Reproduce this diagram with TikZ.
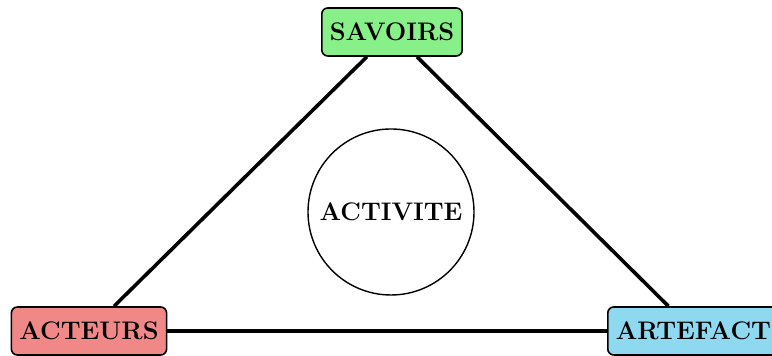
\documentclass[tikz,border=0pt]{standalone}
\usepackage{tikz}
\usetikzlibrary{positioning}
\definecolor{savoirgreen}{HTML}{88F088}
\definecolor{acteurred}{HTML}{F08888}
\definecolor{artefactblue}{HTML}{8ED8F0}

\begin{document}
\begin{tikzpicture}[
  x=1pt, y=1pt,
  every node/.style={font=\fontsize{12.7}{15}\selectfont\bfseries, align=center},
  pole/.style={draw=black, rounded corners=3pt, line width=0.8pt,
               minimum height=24pt, inner xsep=4pt},
  savoir/.style={pole, fill=savoirgreen},
  acteur/.style={pole, fill=acteurred},
  artefact/.style={pole, fill=artefactblue},
  activite/.style={circle, draw=black, line width=0.7pt, minimum size=83pt},
  lien/.style={line width=1.8pt}
]
\useasboundingbox (0,0) rectangle (386,178);
\node[savoir]   (S) at (196,162)  {SAVOIRS};
\node[acteur]   (A) at (44.5,12.5) {ACTEURS};
\node[artefact, anchor=west] (R) at (303.5,12.5) {ARTEFACT};
\node[activite] (C) at (195.5,72) {ACTIVITE};
\draw[lien] (S) -- (A);
\draw[lien] (S) -- (R);
\draw[lien] (A) -- (R);
\end{tikzpicture}
\end{document}
